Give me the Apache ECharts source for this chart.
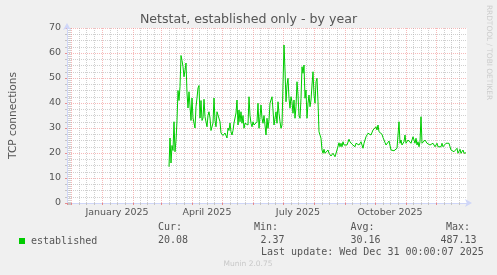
<!DOCTYPE html>
<html><head><meta charset="utf-8">
<script src="https://cdn.jsdelivr.net/npm/echarts@6/dist/echarts.min.js"></script>
<style>html,body{margin:0;padding:0;background:#f0f0f0}#c{width:497px;height:275px}</style>
</head><body><div id="c"></div>
<script>
const chartTitle = 'Netstat, established only - by year';
const yAxisName = 'TCP connections';
const seriesName = 'established';
const firstDay = [2025, 2, 9];          // 2025-03-09, one value per day
const values = [
  14.5, 26, 16, 23, 21, 32.5, 20.5, 25, 33, 45,
  41, 46.5, 59, 57, 54.5, 50.5, 53, 56, 44, 38,
  44.5, 44, 33, 42, 34, 32, 30, 38.5, 42, 46,
  47, 34, 41, 33, 34, 41.5, 34.5, 35, 30.5, 35,
  36.5, 34, 29, 29, 32, 42, 33, 30.5, 36.5, 37,
  37, 32.5, 28, 27.5, 27, 26.5, 28, 27.5, 26, 30,
  29, 32, 28.5, 27.2, 29, 32, 34, 36, 41.2, 31.2,
  37.2, 32.5, 36.5, 31.9, 35, 29.9, 31.9, 31.9, 32.5, 31.2,
  42.5, 35, 31.9, 30.5, 32.5, 31.2, 30.5, 31.2, 32.5, 39.9,
  29.9, 34.5, 39.2, 33.9, 31.9, 35, 34.5, 27.2, 33.9, 29.9,
  33.2, 39.9, 39.2, 42.5, 37.2, 31.2, 31.9, 36.5, 31.9, 40.5,
  35.9, 32.5, 29.9, 31.2, 30.5, 63.2, 53.2, 40.5, 47.2, 49.9,
  41.9, 37.9, 42.5, 40.5, 35.9, 41.2, 33.9, 38.5, 48.5, 43.2,
  35, 33.9, 41.9, 54.5, 51.9, 55.2, 41.9, 45.2, 33.9, 39.9,
  43.2, 38.5, 41.2, 47.2, 52.5, 43.2, 39.9, 48.5, 49.9, 40.5,
  28.5, 28.5, 25.9, 21.2, 19.9, 21.5, 19.9, 20.5, 19.2, 21.2,
  19.9, 19.2, 18.8, 18.5, 19.9, 19.2, 18.5, 19.2, 21.2, 20.5,
  24.1, 22.5, 23.9, 22.5, 24.5, 23.2, 22.5, 23.9, 23.2, 23.2,
  25.5, 24.5, 23.9, 23.5, 24.1, 23.1, 22.5, 23.9, 23.2, 24.5,
  23.2, 22.5, 24.5, 23.9, 21.9, 23.9, 24.5, 26.5, 25.9, 27.9,
  27.2, 28.5, 27.2, 27.9, 29.2, 28.5, 29.9, 30.5, 29.2, 31.2,
  28.5, 28.8, 28.2, 27.5, 26.2, 25.2, 24.2, 23.2, 23.2, 23.2,
  24.8, 24.2, 21.2, 20.9, 21.2, 20.9, 21.2, 21.2, 21.9, 21.2,
  32.5, 23.9, 25.2, 23.2, 23.9, 24.5, 27.2, 23.9, 24.5, 25.2,
  24.5, 25.2, 23.9, 24.5, 26.5, 25.2, 23.9, 25.9, 23.2, 24.5,
  22.5, 24.5, 34.5, 23.9, 23.9, 24.5, 25.2, 24.5, 23.9, 24.5,
  24.5, 23.2, 23.9, 22.5, 23.9, 23.2, 22.5, 23.2, 23.9, 22.5,
  23.2, 23.2, 22.5, 23.9, 22.5, 23.2, 22.5, 23.9, 23.2, 24.5,
  23.9, 22.5, 21.2, 21.2, 21.9, 20.5, 19.9, 21.2, 21.9, 19.9,
  20.5, 21.5, 19.9, 20.5, 21.2, 19.9, 20.5, 20.1
];
const axisStart = [2024, 10, 27];
const axisEnd = [2026, 0, 1];
const yMin = 0, yMax = 70, yStep = 10;
const labelMonths = [0, 3, 6, 9];
const monthNames = ['January','February','March','April','May','June','July','August','September','October','November','December'];
const statHeads = ['Cur:', 'Min:', 'Avg:', 'Max:'];
const statVals = ['20.08', '2.37', '30.16', '487.13'];
const lastUpdate = 'Last update: Wed Dec 31 00:00:07 2025';
const footer = 'Munin 2.0.75';
const watermark = 'RRDTOOL / TOBI OETIKER';

const DAY = 86400000;
const data = values.map((v, i) => [new Date(firstDay[0], firstDay[1], firstDay[2] + i).getTime(), v]);

const FONT = 'DejaVu Sans';
const MONO = 'DejaVu Sans Mono';
const TXT = '#555';
const AXIS = '#CFD6F8';
const MGRID = 'rgba(240,130,130,0.55)';
const GRID = 'rgba(170,170,170,0.55)';

const chart = echarts.init(document.getElementById('c'), null, {renderer: 'canvas'});
chart.setOption({
  animation: false,
  backgroundColor: '#f0f0f0',
  title: {
    text: chartTitle, left: 'center', top: 8,
    textStyle: {fontFamily: FONT, fontSize: 12.6, fontWeight: 'normal', color: TXT}
  },
  grid: {left: 66, right: 30, top: 28, bottom: 72, show: true, backgroundColor: '#ffffff', borderWidth: 0},
  legend: {
    data: [{name: seriesName, icon: 'rect'}],
    left: 14, top: 231, itemWidth: 6, itemHeight: 6, selectedMode: false,
    textStyle: {fontFamily: MONO, fontSize: 10, color: TXT, padding: [0,0,0,1]}
  },
  xAxis: {
    type: 'time',
    min: new Date(axisStart[0], axisStart[1], axisStart[2]).getTime(),
    max: new Date(axisEnd[0], axisEnd[1], axisEnd[2]).getTime(),
    minInterval: 28 * DAY, maxInterval: 31 * DAY, splitNumber: 14,
    axisLine: {show: true, lineStyle: {color: AXIS, width: 1}, symbol: ['none', 'arrow'], symbolSize: [6, 7], symbolOffset: [0, 5]},
    axisTick: {show: true, length: 2, lineStyle: {color: 'rgba(230,100,100,0.7)'}},
    minorTick: {show: true, splitNumber: 4, length: 2, lineStyle: {color: '#c4c4c4'}},
    splitLine: {show: true, showMinLine: false, showMaxLine: false, lineStyle: {color: MGRID, type: [1, 1], width: 1}},
    minorSplitLine: {show: true, lineStyle: {color: GRID, type: [1, 1], width: 1}},
    axisLabel: {
      show: true, interval: 0, showMinLabel: true, showMaxLabel: false, hideOverlap: false,
      fontFamily: FONT, fontSize: 9.5, color: TXT, margin: 5, padding: [0, 0, 0, 30], align: 'center',
      formatter: function (val) {
        const d = new Date(val);
        if (d.getDate() === 1 && labelMonths.indexOf(d.getMonth()) >= 0) return monthNames[d.getMonth()] + ' ' + d.getFullYear();
        return '';
      }
    }
  },
  yAxis: {
    type: 'value', min: yMin, max: yMax, interval: yStep,
    name: yAxisName, nameLocation: 'middle', nameGap: 48, nameRotate: 90,
    nameTextStyle: {fontFamily: FONT, fontSize: 10.6, color: TXT},
    axisLine: {show: true, lineStyle: {color: AXIS, width: 1}, symbol: ['none', 'arrow'], symbolSize: [6, 7], symbolOffset: [0, 5]},
    axisTick: {show: true, length: 2, lineStyle: {color: 'rgba(230,100,100,0.7)'}},
    minorTick: {show: true, splitNumber: 4, length: 2, lineStyle: {color: '#c4c4c4'}},
    splitLine: {show: true, lineStyle: {color: MGRID, type: [1, 1], width: 1}},
    minorSplitLine: {show: true, lineStyle: {color: GRID, type: [1, 1], width: 1}},
    axisLabel: {fontFamily: FONT, fontSize: 9.5, color: TXT, margin: 6}
  },
  series: [{
    name: seriesName, type: 'line', data: data, showSymbol: false, symbol: 'none',
    itemStyle: {color: '#00cc00'},
    lineStyle: {color: '#00cc00', width: 1}
  }],
  graphic: [
    {type: 'text', left: 158, top: 222, style: {text: statHeads[0], font: '10px ' + MONO, fill: TXT}},
    {type: 'text', left: 254, top: 222, style: {text: statHeads[1], font: '10px ' + MONO, fill: TXT}},
    {type: 'text', left: 350.5, top: 222, style: {text: statHeads[2], font: '10px ' + MONO, fill: TXT}},
    {type: 'text', left: 446, top: 222, style: {text: statHeads[3], font: '10px ' + MONO, fill: TXT}},
    {type: 'text', left: 158, top: 235, style: {text: statVals[0], font: '10px ' + MONO, fill: TXT}},
    {type: 'text', left: 260.5, top: 235, style: {text: statVals[1], font: '10px ' + MONO, fill: TXT}},
    {type: 'text', left: 350.5, top: 235, style: {text: statVals[2], font: '10px ' + MONO, fill: TXT}},
    {type: 'text', left: 440.5, top: 235, style: {text: statVals[3], font: '10px ' + MONO, fill: TXT}},
    {type: 'text', left: 261, top: 247, style: {text: lastUpdate, font: '10px ' + MONO, fill: TXT}},
    {type: 'text', x: 248, y: 264, style: {text: footer, font: '7.5px ' + FONT, fill: '#c8c8c8', align: 'center', verticalAlign: 'middle'}},
    {type: 'text', x: 488.5, y: 52.5, rotation: -Math.PI / 2, style: {text: watermark, font: '7.4px ' + FONT, fill: '#cccccc', align: 'center', verticalAlign: 'middle'}}
  ]
});
</script></body></html>
